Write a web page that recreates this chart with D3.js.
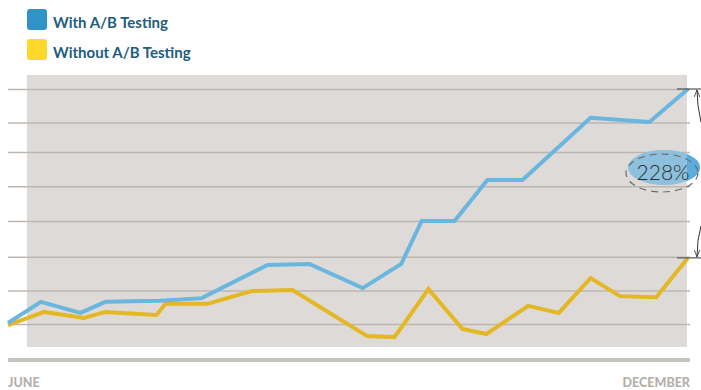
<!DOCTYPE html>
<html>
<head>
<meta charset="utf-8">
<script src="https://cdn.jsdelivr.net/npm/d3@7"></script>
<style>
  body { margin: 0; background: #fff; }
  #vis { width: 701px; height: 390px; }
</style>
</head>
<body>
<div id="vis"></div>
<script>
// months since June (0 = June, 6 = December), values in grid units
var withMonths = [0, 0.29, 0.64, 0.86, 1.34, 1.71, 2.29, 2.66, 3.13, 3.47, 3.65, 3.94, 4.23, 4.54, 5.14, 5.66, 6.0];
var withValues = [0.03, 0.66, 0.33, 0.66, 0.69, 0.77, 1.76, 1.79, 1.07, 1.79, 3.07, 3.07, 4.29, 4.29, 6.14, 6.02, 7.0];

var withoutMonths = [0, 0.32, 0.67, 0.86, 1.31, 1.39, 1.76, 2.15, 2.51, 3.17, 3.41, 3.71, 4.01, 4.22, 4.59, 4.86, 5.14, 5.40, 5.72, 6.0];
var withoutValues = [-0.03, 0.36, 0.18, 0.36, 0.27, 0.60, 0.60, 0.98, 1.01, -0.36, -0.39, 1.04, -0.15, -0.30, 0.54, 0.33, 1.37, 0.83, 0.80, 1.97];

var gridValues = [0, 1, 2, 3.07, 4.1, 5.12, 6, 7];
var xLabels = ['JUNE', 'DECEMBER'];
var seriesNames = ['With A/B Testing', 'Without A/B Testing'];
var annotation = '228%';

var width = 701;
var height = 390;

var svg = d3.select('#vis')
  .append('svg')
  .attr('width', width)
  .attr('height', height);

var x_scale = d3.scaleLinear()
  .domain([0, 6])
  .range([8, 688]);

var y_scale = d3.scaleLinear()
  .domain([0, 7])
  .range([324, 89]);

// plot background
svg.append('rect')
  .attr('x', 27)
  .attr('y', 75)
  .attr('width', 660)
  .attr('height', 272)
  .attr('fill', '#dedad7');

// grid lines
var y_axis = d3.axisRight(y_scale)
  .tickValues(gridValues)
  .tickSize(682)
  .tickFormat('');

svg.append('g')
  .attr('class', 'y axis')
  .attr('transform', 'translate(8,0)')
  .call(y_axis)
  .call(function(g) { g.select('.domain').remove(); })
  .selectAll('line')
  .attr('stroke', '#bcb7b3')
  .attr('stroke-width', 1.5);

// bottom bar
svg.append('line')
  .attr('x1', 8)
  .attr('x2', 690)
  .attr('y1', 360)
  .attr('y2', 360)
  .attr('stroke', '#c6c2be')
  .attr('stroke-width', 4);

var line = d3.line()
  .x(function(d) { return x_scale(d[0]); })
  .y(function(d) { return y_scale(d[1]); });

var withData = d3.zip(withMonths, withValues);
var withoutData = d3.zip(withoutMonths, withoutValues);

svg.append('path')
  .datum(withoutData)
  .attr('d', line)
  .attr('fill', 'none')
  .attr('stroke', '#e3b824')
  .attr('stroke-width', 4)
  .attr('stroke-linejoin', 'miter');

svg.append('path')
  .datum(withData)
  .attr('d', line)
  .attr('fill', 'none')
  .attr('stroke', '#6ab6de')
  .attr('stroke-width', 4)
  .attr('stroke-linejoin', 'miter');

// x labels
svg.append('text')
  .attr('x', x_scale(0))
  .attr('y', 387)
  .text(xLabels[0])
  .style('font-family', 'Lato')
  .style('font-weight', 900)
  .style('font-size', '12.5px')
  .attr('fill', '#b4afab');

svg.append('text')
  .attr('x', 690)
  .attr('y', 387)
  .attr('text-anchor', 'end')
  .text(xLabels[1])
  .style('font-family', 'Lato')
  .style('font-weight', 900)
  .style('font-size', '12.5px')
  .attr('fill', '#b4afab');

// legend
var legendColours = ['#2f93c8', '#fdd72a'];
seriesNames.forEach(function(name, i) {
  svg.append('rect')
    .attr('x', 27)
    .attr('y', 9 + i * 30)
    .attr('width', 20)
    .attr('height', 21)
    .attr('rx', 3)
    .attr('fill', legendColours[i]);
  svg.append('text')
    .attr('x', 53)
    .attr('y', 28 + i * 30)
    .text(name)
    .style('font-family', 'Lato')
    .style('font-weight', 700)
    .style('font-size', '15px')
    .attr('fill', '#215d7e');
});

// annotation
var endWith = withData[withData.length - 1];
var endWithout = withoutData[withoutData.length - 1];
var topY = y_scale(endWith[1]);
var botY = y_scale(endWithout[1]);

svg.append('defs')
  .append('clipPath')
  .attr('id', 'outside')
  .append('rect')
  .attr('x', 687)
  .attr('y', 0)
  .attr('width', 20)
  .attr('height', height);

svg.append('ellipse')
  .attr('cx', 664)
  .attr('cy', 167.5)
  .attr('rx', 36)
  .attr('ry', 17.5)
  .attr('fill', '#8dc0dd');

svg.append('ellipse')
  .attr('cx', 664)
  .attr('cy', 167.5)
  .attr('rx', 36)
  .attr('ry', 17.5)
  .attr('clip-path', 'url(#outside)')
  .attr('fill', '#5aaddc');

svg.append('ellipse')
  .attr('cx', 662)
  .attr('cy', 173)
  .attr('rx', 36)
  .attr('ry', 19)
  .attr('fill', 'none')
  .attr('stroke', '#6b6b6b')
  .attr('stroke-width', 1.2)
  .attr('stroke-dasharray', '7,5');

svg.append('text')
  .attr('x', 663)
  .attr('y', 180)
  .attr('text-anchor', 'middle')
  .text(annotation)
  .style('font-family', 'Lato')
  .style('font-weight', 300)
  .style('font-size', '21px')
  .attr('fill', '#2e2e2e');

svg.append('defs')
  .append('marker')
  .attr('id', 'arrow')
  .attr('viewBox', '0 0 10 10')
  .attr('refX', 10)
  .attr('refY', 5)
  .attr('markerWidth', 7)
  .attr('markerHeight', 7)
  .attr('orient', 'auto')
  .append('path')
  .attr('d', 'M0,1 L10,5 L0,9')
  .attr('fill', 'none')
  .attr('stroke', '#333')
  .attr('stroke-width', 1.2);

[topY, botY].forEach(function(yy) {
  svg.append('line')
    .attr('x1', 677)
    .attr('x2', 701)
    .attr('y1', yy)
    .attr('y2', yy)
    .attr('stroke', '#555')
    .attr('stroke-width', 1.2);
});

svg.append('path')
  .attr('d', 'M701,122 Q697,105 697,' + (topY + 1))
  .attr('fill', 'none')
  .attr('stroke', '#333')
  .attr('stroke-width', 1)
  .attr('marker-end', 'url(#arrow)');

svg.append('path')
  .attr('d', 'M701,226 Q697,240 697,' + (botY - 1))
  .attr('fill', 'none')
  .attr('stroke', '#333')
  .attr('stroke-width', 1)
  .attr('marker-end', 'url(#arrow)');
</script>
</body>
</html>
